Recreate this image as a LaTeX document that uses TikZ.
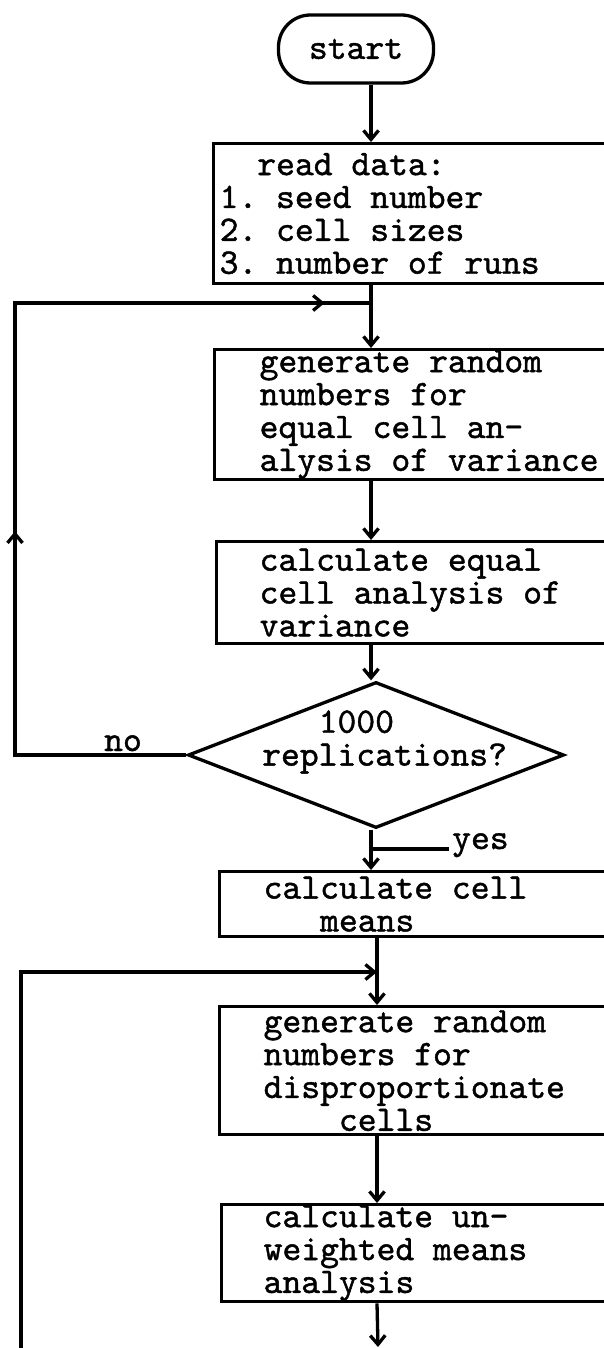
\documentclass[tikz,border=0pt]{standalone}
\usepackage{fontspec}
\usetikzlibrary{arrows.meta,shapes.geometric,decorations.markings}
\newfontfamily\flowtt{lmmono10-regular.otf}[FakeBold=1.2]
\newcommand\flowfont{\fontsize{36}{33}\selectfont\flowtt}
\newcommand\monospaces{\spaceskip=0.525em\relax\xspaceskip=0.525em\relax}
\begin{document}
\begin{tikzpicture}[x=1bp,y=-1bp,
  ln/.style={line width=3.3bp},
  tip/.style={-{Straight Barb[length=9bp,width=15bp]}},
  arr/.style={ln,tip},
  box/.style={draw,ln,rectangle,anchor=north west,align=left,inner ysep=0pt,font=\flowfont,
    execute at begin node=\monospaces},
  lbl/.style={font=\flowfont,inner sep=0pt,execute at begin node=\monospaces},
]
\useasboundingbox (0,0) rectangle (604,1348);
\clip (0,0) rectangle (604,1348);
\fill[white] (0,0) rectangle (604,1348);

\coordinate (ax) at (371,0);
\coordinate (bx) at (377,0);

% nodes
\node[draw,ln,rounded corners=32bp,minimum width=155bp,minimum height=68bp,font=\flowfont] (start) at (356,49) {start};
\node[box,inner xsep=6bp,text width=426bp,minimum height=140bp] (read) at (212,142)
  {\phantom{mm}read data:\\1. seed number\\2. cell sizes\\3. number of runs};
\node[box,inner xsep=45bp,text width=347bp,minimum height=130bp] (gen1) at (213,348)
  {generate random\\numbers for\\equal cell an-\\alysis of variance};
\node[box,inner xsep=43bp,text width=349bp,minimum height=102bp] (calc1) at (215,540)
  {calculate equal\\cell analysis of\\variance};
\node[draw,ln,diamond,minimum width=376bp,minimum height=146bp,inner sep=0pt] (dec) at (376,755) {};
\node[lbl,align=left,anchor=west] (dect) at (262,742) {\phantom{mmm}1000\\replications?};
\node[box,inner xsep=44bp,text width=344bp,minimum height=65bp] (means) at (218,870)
  {calculate cell\\\phantom{mmm}means};
\node[box,inner xsep=44bp,text width=344bp,minimum height=128bp] (gen2) at (218,1005)
  {generate random\\numbers for\\disproportionate\\\phantom{mmmm}cells};
\node[box,inner xsep=42bp,text width=346bp,minimum height=97bp] (calc2) at (220,1203)
  {calculate un-\\weighted means\\analysis};
\node[lbl,anchor=base] (no) at (123,751) {no};
\node[lbl,anchor=base west,inner xsep=3bp] (yes) at (449,849) {yes};

% junctions
\coordinate (j1) at (371,303);
\coordinate (l1) at (15,303);
\coordinate (yj) at (371,849);
\coordinate (j2) at (377,972);
\coordinate (l2) at (21,972);
\coordinate (l2b) at (21,1360);
\coordinate (endc) at (378,1347);

% connectors
\draw[arr] (start.south -| ax) -- (read.north -| ax);
\draw[arr] (read.south -| ax) -- (j1) -- (gen1.north -| ax);
\draw[arr] (gen1.south -| ax) -- (calc1.north -| ax);
\draw[arr] (calc1.south -| ax) -- (dec.north -| ax);
\draw[arr] (dec.south -| ax) -- (yj) -- (means.north -| ax);
\draw[ln] (yj) -- (yes.base west);
\draw[ln,postaction={decorate},decoration={markings,
    mark=at position 395bp with {\arrow{Straight Barb[length=9bp,width=15bp]}},
    mark=at position 933bp with {\arrow{Straight Barb[length=9bp,width=15bp]}}}]
  (dec.west) -- (dec.west -| l1) -- (l1) -- (j1);
\draw[arr] (means.south -| bx) -- (j2) -- (gen2.north -| bx);
\draw[arr] (l2b) -- (l2) -- (j2);
\draw[arr] (gen2.south -| bx) -- (calc2.north -| bx);
\draw[arr] (calc2.south -| bx) -- (endc);
\end{tikzpicture}
\end{document}
